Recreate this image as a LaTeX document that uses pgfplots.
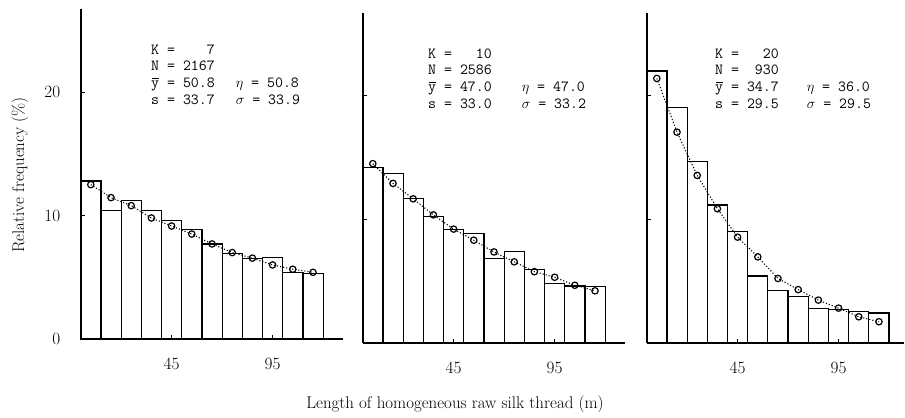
\documentclass[border=0pt]{standalone}
\usepackage{pgfplots}
\pgfplotsset{compat=1.18}
\usepackage{fontspec}
\newcommand{\statfont}{\ttfamily\fontsize{15.5}{17}\selectfont}
\newcommand{\ybar}{\makebox[0pt][l]{\hspace{0.6bp}\rule[9.2bp]{6.8bp}{1.1bp}}y}
\begin{document}
\begin{tikzpicture}[x=1bp,y=1bp]
\path[use as bounding box] (0,0) rectangle (905,417);
\pgfplotsset{
  panel/.style={
    scale only axis, width=262.6bp, height=329.7bp,
    xmin=0, xmax=130, ymin=0, ymax=26.7,
    axis x line*=bottom, axis y line*=left,
    axis line style={line width=2bp, black},
    xtick={45,95}, ytick={10,20},
    tick align=inside, major tick length=4bp,
    tick style={line width=1bp, black},
    tick label style={font=\fontsize{17}{20}\selectfont},
    xticklabel style={yshift=-16bp},
    yticklabel style={xshift=-17bp},
    clip=false,
  },
  bars/.style={ybar interval, draw=black, fill=none, line width=1.2bp},
  fit/.style={black, dotted, line width=1.1bp, mark=o, mark size=3.2bp,
    mark options={solid, line width=1.2bp}},
}
% Panel 1
\begin{axis}[panel, at={(80.7bp,78bp)}, anchor=south west, ytick={0,10,20}]
\addplot[bars] coordinates {(0,12.8) (10,10.4) (20,11.2) (30,10.4) (40,9.6) (50,8.9) (60,7.7) (70,6.9) (80,6.5) (90,6.6) (100,5.4) (110,5.3) (120,5.3)};
\addplot[fit] coordinates {(5,12.5) (15,11.45) (25,10.8) (35,9.8) (45,9.15) (55,8.5) (65,7.7) (75,7.0) (85,6.55) (95,6.0) (105,5.65) (115,5.4)};
\end{axis}
% Panel 2
\begin{axis}[panel, at={(362.7bp,74.3bp)}, anchor=south west, yticklabels={}]
\addplot[bars] coordinates {(0,14.2) (10,13.7) (20,11.7) (30,10.2) (40,9.15) (50,8.85) (60,6.85) (70,7.4) (80,5.95) (90,4.8) (100,4.6) (110,4.55) (120,4.55)};
\addplot[fit] coordinates {(5,14.5) (15,12.9) (25,11.65) (35,10.35) (45,9.2) (55,8.3) (65,7.35) (75,6.55) (85,5.75) (95,5.3) (105,4.65) (115,4.2)};
\end{axis}
% Panel 3
\begin{axis}[panel, at={(646.7bp,74.3bp)}, anchor=south west, width=257.5bp, xmax=127.5, yticklabels={}]
\addplot[bars] coordinates {(0,22.0) (10,19.05) (20,14.65) (30,11.15) (40,9.0) (50,5.4) (60,4.2) (70,3.75) (80,2.8) (90,2.7) (100,2.5) (110,2.4) (120,2.4)};
\addplot[fit] coordinates {(5,21.4) (15,17.05) (25,13.55) (35,10.85) (45,8.55) (55,6.95) (65,5.2) (75,4.3) (85,3.45) (95,2.8) (105,2.1) (115,1.7)};
\end{axis}
% statistics
\node[anchor=north west, inner sep=0pt, font=\statfont] at (151,375) {%
\begin{tabular}{@{}l@{\hspace{21bp}}l@{}}
K = \phantom{216}7 & \\
N = 2167 & \\
\ybar{} = 50.8 & $\eta$ = 50.8\\
s = 33.7 & $\sigma$ = 33.9
\end{tabular}};
\node[anchor=north west, inner sep=0pt, font=\statfont] at (428,371) {%
\begin{tabular}{@{}l@{\hspace{30bp}}l@{}}
K = \phantom{21}10 & \\
N = 2586 & \\
\ybar{} = 47.0 & $\eta$ = 47.0\\
s = 33.0 & $\sigma$ = 33.2
\end{tabular}};
\node[anchor=north west, inner sep=0pt, font=\statfont] at (715,371) {%
\begin{tabular}{@{}l@{\hspace{28bp}}l@{}}
K = \phantom{21}20 & \\
N = \phantom{2}930 & \\
\ybar{} = 34.7 & $\eta$ = 36.0\\
s = 29.5 & $\sigma$ = 29.5
\end{tabular}};
% axis labels
\node[rotate=90, font=\fontsize{17}{20}\selectfont] at (20,242) {Relative frequency (\%)};
\node[font=\fontsize{17}{20}\selectfont] at (455,13) {Length of homogeneous raw silk thread (m)};
\end{tikzpicture}
\end{document}
